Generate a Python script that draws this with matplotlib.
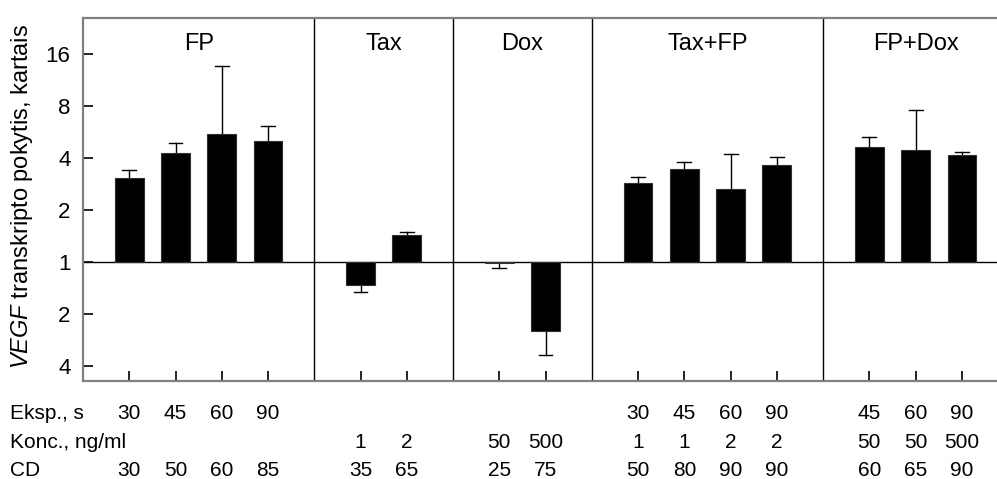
import numpy as np
import matplotlib
matplotlib.use("Agg")
import matplotlib.pyplot as plt
from matplotlib.transforms import blended_transform_factory

plt.rcParams["font.family"] = ["Liberation Sans", "DejaVu Sans"]
plt.rcParams["mathtext.fontset"] = "custom"
plt.rcParams["mathtext.rm"] = "Liberation Sans"
plt.rcParams["mathtext.it"] = "Liberation Sans:italic"

# groups of treatments and how many bars each one has
groups = ["FP", "Tax", "Dox", "Tax+FP", "FP+Dox"]
group_sizes = [4, 2, 2, 4, 3]

# fold change (negative = decrease), and the fold at the end of the error bar
fold = [3.05, 4.29, 5.50, 4.99,
        -1.36, 1.43,
        -1.01, -2.51,
        2.85, 3.46, 2.64, 3.66,
        4.63, 4.44, 4.17]
err_end = [3.42, 4.86, 13.6, 6.13,
           -1.49, 1.49,
           -1.09, -3.48,
           3.12, 3.81, 4.20, 4.03,
           5.31, 7.57, 4.35]

# table under the chart
row_names = ["Eksp., s", "Konc., ng/ml", "CD"]
eksp = ["30", "45", "60", "90", "", "", "", "", "30", "45", "60", "90", "45", "60", "90"]
konc = ["", "", "", "", "1", "2", "50", "500", "1", "1", "2", "2", "50", "50", "500"]
cd = ["30", "50", "60", "85", "35", "65", "25", "75", "50", "80", "90", "90", "60", "65", "90"]

ytick_vals = [-2, -1, 0, 1, 2, 3, 4]
ytick_labels = ["4", "2", "1", "2", "4", "8", "16"]


def to_log(v):
    v = np.asarray(v, dtype=float)
    return np.sign(v) * np.log2(np.abs(v))


# slot positions: one empty slot at the start of every group
xpos, seps, centers = [], [], []
start = 0
for n in group_sizes:
    xpos += [start + i for i in range(1, n + 1)]
    centers.append(start + (n + 1) / 2)
    start += n + 1
    seps.append(start)
seps = seps[:-1]
xpos = np.array(xpos)

h = to_log(fold)
e = to_log(err_end)

W, H = 997, 479
fig = plt.figure(figsize=(W / 100, H / 100), dpi=100)
ax = fig.add_axes([83 / W, 1 - 381 / H, 1 - 83 / W, (381 - 18) / H])

ax.bar(xpos, h, width=0.62, color="black", edgecolor="#303030", linewidth=0.8, zorder=3)
for x, top, end in zip(xpos, h, e):
    ax.plot([x, x], [top, end], color="black", lw=1.0, zorder=2)
    ax.plot([x - 0.15, x + 0.15], [end, end], color="black", lw=1.0, zorder=2)

ax.axhline(0, color="black", lw=1.0, zorder=1)
for s in seps:
    ax.axvline(s, color="black", lw=1.0, zorder=1)

ax.set_xlim(0, 19.76)
ax.set_ylim(-2.29, 4.69)

for side in ["top", "left", "bottom"]:
    ax.spines[side].set_color("#808080")
    ax.spines[side].set_linewidth(1.6)
ax.spines["right"].set_visible(False)

ax.set_xticks(xpos)
ax.set_xticklabels([])
ax.set_yticks(ytick_vals)
ax.set_yticklabels(ytick_labels, fontsize=16)
ax.tick_params(axis="both", direction="in", length=7, width=1.2, color="black")
ax.tick_params(axis="y", pad=9)

for c, name in zip(centers, groups):
    ax.text(c, 0.912, name, transform=blended_transform_factory(ax.transData, ax.transAxes),
            ha="center", va="baseline", fontsize=17)

fig.text(22 / W, 1 - 196 / H, r"$\mathit{VEGF}$ transkripto pokytis, kartais",
         rotation=90, ha="center", va="center", fontsize=17)

trans = blended_transform_factory(ax.transData, fig.transFigure)
row_y = [419, 448, 476]
for name, vals, yb in zip(row_names, [eksp, konc, cd], row_y):
    fig.text(10 / W, 1 - yb / H, name, ha="left", va="baseline", fontsize=15)
    for x, v in zip(xpos, vals):
        if v:
            ax.text(x, 1 - yb / H, v, transform=trans, ha="center", va="baseline",
                    fontsize=15, clip_on=False)

fig.savefig("out.png", dpi=100)
